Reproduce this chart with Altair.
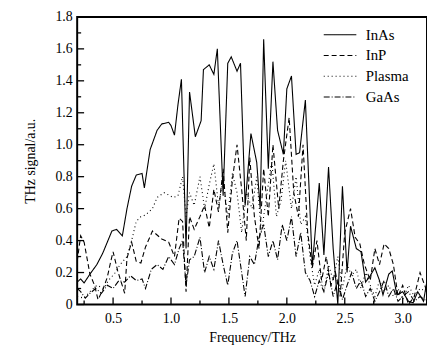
import altair as alt
import pandas as pd

series_names = ["InAs", "InP", "Plasma", "GaAs"]

inas_f = [0.19,0.22,0.25,0.30,0.36,0.41,0.45,0.49,0.53,0.58,0.62,0.66,0.70,0.75,0.77,0.82,0.88,0.92,0.98,1.00,
          1.03,1.06,1.09,1.13,1.16,1.21,1.26,1.28,1.33,1.37,1.40,1.45,1.49,1.52,1.57,1.60,1.64,1.69,1.74,1.77,
          1.80,1.84,1.88,1.92,1.97,2.00,2.04,2.08,2.11,2.16,2.22,2.28,2.32,2.36,2.40,2.44,2.48,2.52,2.55,2.60,
          2.64,2.68,2.72,2.76,2.80,2.83,2.88,2.91,2.95,3.00,3.05,3.09,3.13,3.18,3.21]
inas_v = [0.14,0.16,0.135,0.19,0.25,0.32,0.39,0.46,0.47,0.43,0.60,0.74,0.81,0.82,0.73,0.97,1.09,1.13,1.14,1.12,
          1.06,1.25,1.41,0.35,1.33,1.05,1.15,1.47,1.50,1.44,1.60,0.68,1.51,1.55,1.46,1.51,0.62,1.07,0.89,0.60,
          1.66,0.85,1.52,1.09,0.94,1.35,1.43,0.94,0.95,1.28,0.24,0.76,0.31,0.86,0.35,0.0,0.74,0.20,0.49,0.35,
          0.33,0.14,0.18,0.23,0.15,0.06,0.19,0.21,0.06,0.08,0.02,0.01,0.08,0.02,0.15]

inp_f = [0.19,0.22,0.25,0.27,0.30,0.34,0.37,0.41,0.45,0.48,0.50,0.54,0.60,0.62,0.66,0.70,0.74,0.78,0.84,0.92,
         0.98,1.03,1.07,1.10,1.13,1.16,1.20,1.25,1.29,1.33,1.37,1.41,1.45,1.49,1.53,1.57,1.61,1.65,1.68,1.72,
         1.76,1.80,1.84,1.88,1.93,1.97,2.02,2.06,2.10,2.14,2.18,2.22,2.26,2.30,2.34,2.38,2.42,2.46,2.50,2.55,
         2.59,2.63,2.67,2.72,2.76,2.80,2.84,2.88,2.92,2.96,3.00,3.05,3.10,3.15,3.21]
inp_v = [0.27,0.43,0.39,0.31,0.19,0.12,0.03,0.09,0.17,0.27,0.33,0.21,0.07,0.29,0.39,0.27,0.26,0.36,0.46,0.41,
         0.39,0.30,0.54,0.52,0.08,0.55,0.47,0.55,0.62,0.48,0.72,0.58,0.85,0.45,0.78,1.00,0.72,0.40,0.92,0.55,
         0.35,0.85,0.55,1.00,0.60,0.90,1.17,0.70,0.55,1.00,0.45,0.23,0.40,0.15,0.30,0.12,0.20,0.05,0.45,0.60,
         0.42,0.38,0.25,0.15,0.35,0.25,0.38,0.35,0.25,0.05,0.12,0.00,0.05,0.20,0.08]

plasma_f = [0.19,0.25,0.30,0.36,0.42,0.46,0.52,0.56,0.62,0.66,0.70,0.74,0.78,0.84,0.88,0.94,1.02,1.06,1.10,1.13,
            1.16,1.20,1.25,1.29,1.33,1.37,1.41,1.45,1.49,1.53,1.57,1.61,1.65,1.70,1.74,1.78,1.83,1.87,1.91,1.95,
            1.99,2.04,2.08,2.12,2.16,2.20,2.24,2.28,2.32,2.36,2.40,2.44,2.48,2.52,2.56,2.60,2.64,2.68,2.72,2.76,
            2.80,2.84,2.88,2.92,2.96,3.00,3.05,3.10,3.15,3.21]
plasma_v = [0.05,0.04,0.08,0.12,0.10,0.15,0.20,0.25,0.30,0.40,0.52,0.55,0.56,0.60,0.67,0.70,0.67,0.68,0.80,0.55,
            0.70,0.62,0.80,0.60,0.75,0.88,0.62,0.78,0.55,0.82,0.70,0.45,0.70,0.60,0.80,0.45,0.70,0.90,0.55,0.65,
            0.90,0.60,0.80,0.50,0.55,0.30,0.12,0.22,0.08,0.25,0.15,0.30,0.10,0.25,0.18,0.22,0.10,0.20,0.12,0.05,
            0.15,0.08,0.12,0.05,0.10,0.03,0.12,0.05,0.10,0.08]

gaas_f = [0.19,0.22,0.26,0.30,0.35,0.40,0.45,0.50,0.55,0.60,0.65,0.70,0.75,0.78,0.83,0.88,0.93,0.98,1.03,1.07,
          1.10,1.13,1.16,1.20,1.25,1.29,1.33,1.37,1.41,1.45,1.49,1.53,1.57,1.61,1.64,1.68,1.72,1.76,1.80,1.84,
          1.88,1.92,1.96,2.00,2.04,2.08,2.12,2.16,2.20,2.24,2.28,2.32,2.36,2.40,2.44,2.48,2.52,2.56,2.60,2.64,
          2.68,2.72,2.76,2.80,2.84,2.88,2.92,2.96,3.00,3.05,3.10,3.15,3.21]
gaas_v = [0.10,0.08,0.04,0.07,0.10,0.07,0.12,0.10,0.15,0.14,0.18,0.15,0.16,0.10,0.22,0.25,0.22,0.30,0.25,0.35,
          0.40,0.12,0.28,0.30,0.42,0.20,0.30,0.22,0.40,0.25,0.12,0.32,0.40,0.20,0.05,0.30,0.25,0.42,0.50,0.30,
          0.40,0.28,0.50,0.40,0.55,0.30,0.45,0.20,0.15,0.05,0.15,0.08,0.20,0.05,0.15,0.03,0.12,0.20,0.10,0.15,
          0.05,0.10,0.02,0.08,0.15,0.05,0.10,0.02,0.05,0.08,0.02,0.05,0.02]

x_major = [0.5, 1.0, 1.5, 2.0, 2.5, 3.0]
x_minor = [0.25, 0.75, 1.25, 1.75, 2.25, 2.75]
y_major = [0.0, 0.2, 0.4, 0.6, 0.8, 1.0, 1.2, 1.4, 1.6, 1.8]
y_minor = [0.1, 0.3, 0.5, 0.7, 0.9, 1.1, 1.3, 1.5, 1.7]

frames = []
for name, fs, vs in [("InAs", inas_f, inas_v), ("InP", inp_f, inp_v),
                     ("Plasma", plasma_f, plasma_v), ("GaAs", gaas_f, gaas_v)]:
    frames.append(pd.DataFrame({"freq": fs, "signal": vs, "series": name}))
df = pd.concat(frames, ignore_index=True)

W, H = 354, 291
FONT = "Liberation Serif"
xscale = alt.Scale(domain=[0.19, 3.21], nice=False, zero=False)
yscale = alt.Scale(domain=[0, 1.8], nice=False, zero=True)
xaxis = alt.Axis(title="Frequency/THz", values=x_major, format=".1f", ticks=False,
                 domain=False, grid=False, labelPadding=7, titlePadding=5,
                 labelFont=FONT, labelFontSize=14, labelColor="black",
                 titleFont=FONT, titleFontSize=14, titleFontWeight="normal", titleColor="black")
yaxis = alt.Axis(title="THz signal/a.u.", values=y_major, ticks=False, domain=False, grid=False,
                 labelExpr="datum.value == 0 ? '0' : format(datum.value, '.1f')",
                 labelPadding=5, titlePadding=18,
                 labelFont=FONT, labelFontSize=14, labelColor="black",
                 titleFont=FONT, titleFontSize=14, titleFontWeight="normal", titleColor="black")

lines = alt.Chart(df).mark_line(color="black", strokeWidth=1.1, clip=True).encode(
    x=alt.X("freq:Q", scale=xscale, axis=xaxis),
    y=alt.Y("signal:Q", scale=yscale, axis=yaxis),
    strokeDash=alt.StrokeDash("series:N",
                              scale=alt.Scale(domain=series_names,
                                              range=[[1, 0], [5, 3], [1, 3], [6, 2, 1, 2]]),
                              sort=series_names,
                              legend=alt.Legend(title=None, orient="none", legendX=257, legendY=9,
                                                symbolType="M-2,0H2", symbolSize=272,
                                                symbolStrokeColor="black", symbolStrokeWidth=1.1,
                                                labelFont=FONT, labelFontSize=15, labelColor="black",
                                                rowPadding=4, labelOffset=17)),
    order=alt.Order("freq:Q"),
)

def xticks(vals, length):
    return alt.Chart(pd.DataFrame({"t": vals})).mark_rule(color="black", strokeWidth=1.3).encode(
        x=alt.X("t:Q", scale=xscale, axis=xaxis),
        y=alt.value(H), y2=alt.value(H - length))

def yticks(vals, length):
    return alt.Chart(pd.DataFrame({"t": vals})).mark_rule(color="black", strokeWidth=1.3).encode(
        y=alt.Y("t:Q", scale=yscale, axis=yaxis),
        x=alt.value(0), x2=alt.value(length))

chart = alt.layer(
    lines, xticks(x_major, 7), xticks(x_minor, 4), yticks(y_major, 7), yticks(y_minor, 4)
).properties(
    width=W, height=H,
    autosize=alt.AutoSizeParams(type="none"),
    padding={"left": 70, "top": 7, "right": 0, "bottom": 41},
).configure_view(
    stroke="black", strokeWidth=2
)

chart.save("out.html", embed_options={"renderer": "svg", "actions": False})
